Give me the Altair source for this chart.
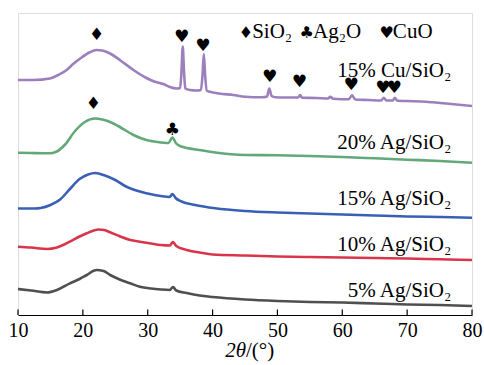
import altair as alt
import pandas as pd

# ---- data (2theta in degrees, intensity in a.u.) ----
x_5 = [10, 12, 14.5, 16, 18, 19.5, 20.6, 22.1, 23.2, 24.2, 25.5, 27.3, 28.8, 30.5, 32, 33.4, 33.9, 34.4, 36, 38, 40, 45, 50, 55, 60, 65, 70, 75, 80]
y_5 = [26, 24.5, 22.5, 25, 31.7, 36, 40, 45, 44, 40, 36, 31.7, 28.3, 26.5, 25.5, 25, 28, 24.5, 22, 19.5, 18, 15.5, 14, 13, 12.5, 11.5, 10.5, 10, 9]

x_10 = [10, 12, 14.5, 16, 18, 19.5, 20.6, 22.4, 23.3, 24.2, 25.6, 27.3, 28.8, 30.5, 32, 33.4, 33.9, 34.4, 36, 38, 40, 45, 50, 55, 60, 65, 70, 75, 80]
y_10 = [68.3, 67.5, 66, 67.5, 73.3, 78.5, 81.7, 85.5, 85, 82.7, 79, 75, 73.3, 71.5, 70, 69.5, 73, 69, 65, 62.5, 60.5, 59.5, 58.5, 58, 57.5, 57, 56.5, 55.7, 55]

x_15 = [10, 12.6, 13.5, 15, 16.5, 18, 19.5, 20.8, 21.9, 23.4, 25, 26.5, 28, 30, 32, 33.4, 33.8, 34.3, 35.2, 37.3, 40.4, 45, 50, 55, 60, 65, 70, 75, 80]
y_15 = [106.5, 106.5, 107, 110, 115.5, 126, 136, 140.5, 142, 139.5, 135, 129, 125, 121.5, 119, 118, 121, 117, 113.5, 110, 106.7, 104, 102.5, 101.5, 100.5, 99.5, 98.5, 98, 97.3]

x_20 = [10, 12, 14.9, 15.8, 17.2, 18.8, 20.3, 21.9, 23, 24.2, 25.7, 27.8, 29.8, 31.5, 33.2, 33.8, 34.4, 35.2, 38, 40.4, 45, 50, 55, 60, 65, 70, 75, 80]
y_20 = [162.3, 162, 161.7, 163, 170, 184, 193, 196.5, 195.5, 193, 188, 180, 175, 173, 172, 177.5, 171.5, 168.5, 165, 162.5, 160, 159.7, 159, 158, 156.7, 155.3, 154, 152.3]

x_cu = [10, 12.4, 14.9, 16.2, 17.5, 18.5, 19.6, 21, 22.1, 23, 24.2, 25.7, 27.8, 29.8, 31, 32.4, 33.4, 34.5, 35.0, 35.2, 35.4, 35.6, 35.8,
        36.5, 37.6, 38.2, 38.45, 38.65, 38.85, 39.1, 39.6, 41, 43.2, 45, 47.6, 48.4, 48.75, 49.1, 49.7, 51, 53.2, 53.5, 53.8,
        56, 57.8, 58.15, 58.6, 61, 61.5, 62, 64, 66, 66.4, 66.8, 67.8, 68.1, 68.5, 70, 72.8, 76, 80]
y_cu = [235, 235, 236.5, 240, 245, 251, 256.5, 262.5, 265, 264.5, 261.5, 255, 245, 237, 233.5, 231, 228, 226.5, 227, 243, 268.5, 243, 226.5,
        225, 224.5, 225, 240, 261, 240, 224.5, 223.3, 221.5, 220, 218.3, 217.7, 218.5, 226.5, 219, 217.7, 217.5, 217.5, 220, 217.2,
        217, 216.5, 218.3, 216.2, 215.7, 219.8, 215.5, 215, 214.5, 217.2, 214.5, 214.5, 217.2, 214.2, 214, 213.3, 211.5, 209]

series_names = ["5% Ag/SiO₂", "10% Ag/SiO₂", "15% Ag/SiO₂", "20% Ag/SiO₂", "15% Cu/SiO₂"]
series_colors = ["#4f4f4f", "#d8354a", "#3a60b5", "#62a878", "#9b80bd"]
series_x = [x_5, x_10, x_15, x_20, x_cu]
series_y = [y_5, y_10, y_15, y_20, y_cu]

# sample labels (right aligned), baseline positions
label_x = [76.8, 76.8, 76.8, 76.8, 76.8]
label_y = [18.3, 64, 110, 166, 238]

# phase markers above peaks
mark_text = ["♦", "♦", "♣", "♥", "♥", "♥", "♥", "♥", "♥", "♥"]
mark_x = [22.13, 21.61, 33.82, 35.24, 38.52, 48.8, 53.37, 61.37, 66.25, 68.0]
mark_y = [280, 210.7, 185, 278, 269.5, 238, 233, 230, 227.2, 227.2]

# legend row
leg_sym = ["♦", "♣", "♥"]
leg_sym_x = [45.15, 54.5, 66.85]
leg_txt = ["SiO₂", "Ag₂O", "CuO"]
leg_txt_x = [46.1, 55.5, 67.8]
leg_sym_y = 282.5
leg_txt_y = 277.3

tick_values = [10, 20, 30, 40, 50, 60, 70, 80]

# ---- build tables ----
rows = []
for name, xs, ys in zip(series_names, series_x, series_y):
    for i, (a, b) in enumerate(zip(xs, ys)):
        rows.append({"series": name, "theta": a, "I": b, "order": i})
lines_df = pd.DataFrame(rows)

labels_df = pd.DataFrame({"text": series_names, "theta": label_x, "I": label_y})
marks_df = pd.DataFrame({"text": mark_text, "theta": mark_x, "I": mark_y})
legsym_df = pd.DataFrame({"text": leg_sym, "theta": leg_sym_x, "I": [leg_sym_y] * 3})
legtxt_df = pd.DataFrame({"text": leg_txt, "theta": leg_txt_x, "I": [leg_txt_y] * 3})
ticks_df = pd.DataFrame({"theta": tick_values, "y0": [0] * len(tick_values), "y1": [5.5] * len(tick_values)})

FONT = "Times New Roman, Liberation Serif, DejaVu Serif, serif"
SYM_FONT = "DejaVu Sans"

xscale = alt.Scale(domain=[10, 80], nice=False, zero=False)
yscale = alt.Scale(domain=[0, 302], nice=False, zero=False)

xaxis = alt.Axis(values=tick_values, ticks=False, tickSize=0, labelFont=FONT, labelFontSize=20,
                 labelColor="black", labelPadding=5, domainColor="black", domainWidth=1.2,
                 grid=False, title=None, labelFlush=False)

lines = alt.Chart(lines_df).mark_line(strokeWidth=2.6, interpolate="monotone").encode(
    x=alt.X("theta:Q", scale=xscale, axis=xaxis),
    y=alt.Y("I:Q", scale=yscale, axis=None),
    color=alt.Color("series:N", scale=alt.Scale(domain=series_names, range=series_colors), legend=None),
    order="order:Q",
)

ticks = alt.Chart(ticks_df).mark_rule(color="black", strokeWidth=1.2).encode(
    x=alt.X("theta:Q", scale=xscale),
    y=alt.Y("y0:Q", scale=yscale),
    y2="y1:Q",
)

labels = alt.Chart(labels_df).mark_text(font=FONT, fontSize=21, align="right", baseline="alphabetic",
                                        color="black").encode(
    x=alt.X("theta:Q", scale=xscale), y=alt.Y("I:Q", scale=yscale), text="text:N")

marks = alt.Chart(marks_df).mark_text(font=SYM_FONT, fontSize=17, align="center", baseline="middle",
                                      color="black").encode(
    x=alt.X("theta:Q", scale=xscale), y=alt.Y("I:Q", scale=yscale), text="text:N")

legsym = alt.Chart(legsym_df).mark_text(font=SYM_FONT, fontSize=16, align="center", baseline="middle",
                                        color="black").encode(
    x=alt.X("theta:Q", scale=xscale), y=alt.Y("I:Q", scale=yscale), text="text:N")

legtxt = alt.Chart(legtxt_df).mark_text(font=FONT, fontSize=21, align="left", baseline="alphabetic",
                                        color="black").encode(
    x=alt.X("theta:Q", scale=xscale), y=alt.Y("I:Q", scale=yscale), text="text:N")

title_a = alt.Chart(pd.DataFrame({"t": ["2θ"]})).mark_text(
    font=FONT, fontSize=21, fontStyle="italic", align="right", baseline="alphabetic", color="black"
).encode(x=alt.value(228), y=alt.value(344), text="t:N")
title_b = alt.Chart(pd.DataFrame({"t": ["/(°)"]})).mark_text(
    font=FONT, fontSize=21, align="left", baseline="alphabetic", color="black"
).encode(x=alt.value(228), y=alt.value(344), text="t:N")

chart = alt.layer(lines, ticks, labels, marks, legsym, legtxt, title_a, title_b).properties(
    width=454, height=302,
    padding={"left": 18, "top": 13, "right": 12, "bottom": 50},
    autosize=alt.AutoSizeParams(type="none"),
).configure_view(stroke="black", strokeWidth=1.2).configure(background="white")

chart.save("out.html", embed_options={"renderer": "svg", "actions": False})
